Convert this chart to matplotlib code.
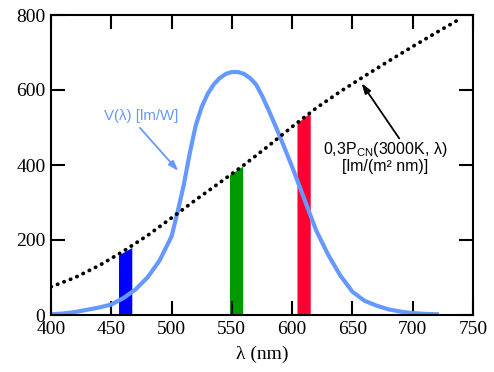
import numpy as np
import matplotlib
matplotlib.use('Agg')
import matplotlib.pyplot as plt

plt.rcParams['font.family'] = ['Liberation Serif', 'DejaVu Serif']
plt.rcParams['mathtext.fontset'] = 'custom'
plt.rcParams['mathtext.rm'] = 'Liberation Sans'

# V(lambda) curve, lm/W
v_lam = [400, 410, 420, 430, 440, 450, 460, 470, 480, 490, 500, 505, 510, 515,
         520, 525, 530, 535, 540, 545, 550, 555, 560, 565, 570, 575, 580, 585,
         590, 600, 610, 620, 630, 640, 650, 660, 670, 680, 690, 700, 710, 720]
v_val = [2, 4, 8, 14, 20, 28, 45, 68, 100, 145, 210, 275, 345, 430,
         505, 555, 590, 615, 632, 643, 648, 648, 643, 632, 615, 585, 550, 513,
         475, 395, 310, 225, 160, 105, 62, 38, 25, 15, 9, 5, 3, 2]

# 0,3 P_CN(3000K, lambda)
p_lam = [400, 420, 440, 460, 480, 500, 520, 540, 560, 580, 600, 620, 640,
         660, 680, 700, 720, 740]
p_val = [75, 100, 132, 170, 212, 259, 307, 353, 400, 450, 502, 552, 596,
         637, 677, 716, 754, 791]

# LED bands: edges and top values
bands = {
    'blue': ([456, 467], [160, 180]),
    'green': ([548, 559], [374, 397]),
    'red': ([604, 615], [512, 540]),
}
band_colors = {'blue': '#0000ff', 'green': '#009900', 'red': '#ff0033'}

fig = plt.figure(figsize=(4.94, 3.72), dpi=100)
ax = fig.add_axes([51/494, 1 - 315/372, 422/494, 300/372])

for name, (bx, by) in bands.items():
    ax.fill_between(bx, [0, 0], by, color=band_colors[name], lw=0, zorder=1)

ax.plot(v_lam, v_val, color='#6699ff', lw=3, zorder=2)
ax.plot(p_lam, p_val, color='k', lw=2.7, linestyle=(0, (0.1, 1.75)),
        dash_capstyle='round', zorder=3)

ax.text(474.5, 531, 'V(λ) [lm/W]', color='#6699ff', fontsize=10.8,
        family='Liberation Sans', ha='center', va='center')
ax.annotate('', xy=(505.6, 384), xytext=(473.8, 499),
            arrowprops=dict(arrowstyle='-|>,head_length=0.6,head_width=0.2',
                            color='#6699ff', lw=1.3, shrinkA=0, shrinkB=0))

ax.text(677, 421, '0,3P$_{\\mathrm{CN}}$(3000K, λ)\n[lm/(m² nm)]', color='k',
        fontsize=11.5, family='Liberation Sans', ha='center', va='center',
        multialignment='center', linespacing=1.0)
ax.annotate('', xy=(657.6, 618), xytext=(688.8, 471),
            arrowprops=dict(arrowstyle='-|>,head_length=0.6,head_width=0.2',
                            color='k', lw=1.3, shrinkA=0, shrinkB=0))

ax.set_xlim(400, 750)
ax.set_ylim(0, 800)
ax.set_xticks([400, 450, 500, 550, 600, 650, 700, 750])
ax.set_yticks([0, 200, 400, 600, 800])
ax.tick_params(direction='in', length=10, width=1.5, labelsize=14,
               top=True, right=True)
ax.tick_params(axis='x', pad=4)
ax.tick_params(axis='y', pad=4)
for s in ax.spines.values():
    s.set_linewidth(1.5)
ax.set_xlabel('λ (nm)', fontsize=14, labelpad=6)

fig.savefig('out.png', dpi=100)
